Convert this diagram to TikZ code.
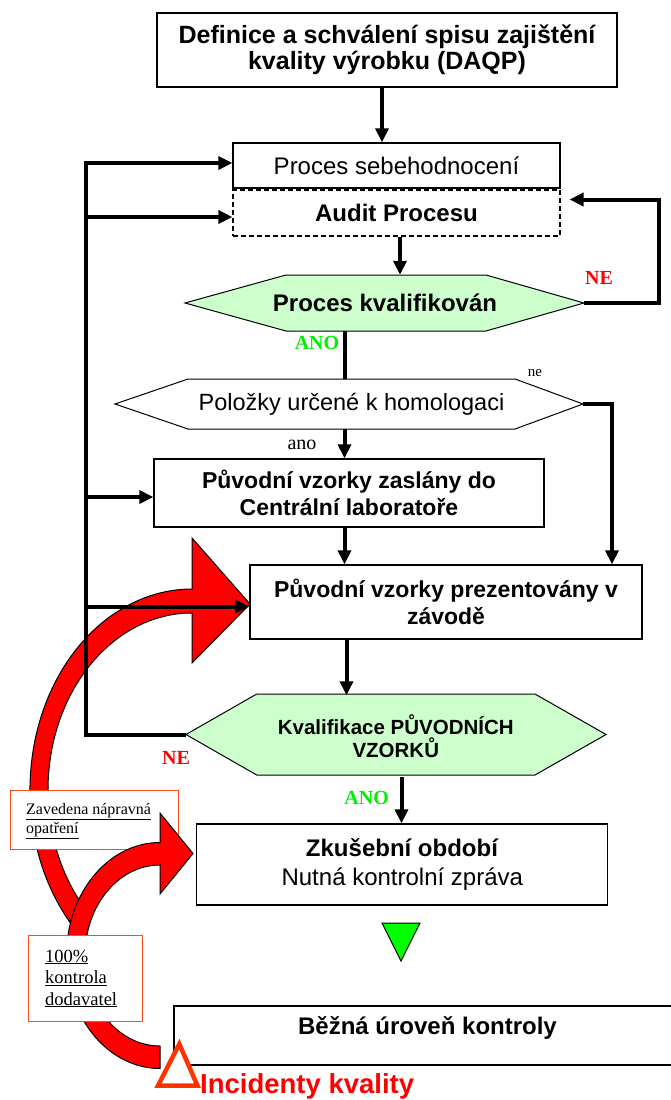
\documentclass[tikz,border=0pt]{standalone}
\usepackage{fontspec}
\setmainfont{Liberation Sans}
\newfontfamily\labelfont{Liberation Serif}
\usetikzlibrary{arrows.meta}
\definecolor{decisiongreen}{HTML}{CCFFCC}
\definecolor{yesgreen}{HTML}{00EE00}
\definecolor{nored}{HTML}{FF0000}
\definecolor{noteorange}{HTML}{FF4A1C}
\definecolor{alertorange}{HTML}{FF3300}
\definecolor{okgreen}{HTML}{00FF00}
\begin{document}
\begin{tikzpicture}[x=1pt,y=-1pt,
  stepbox/.style={draw=black, line width=1.3pt, fill=white, inner sep=0pt, align=center},
  bigbold/.style={font=\bfseries\fontsize{24}{26.5}\selectfont},
  textonly/.style={inner sep=0pt, align=center},
  decision/.style={draw=black, line width=1pt, fill=decisiongreen},
  flow/.style={line width=4pt, -{Triangle[length=14pt,width=13pt]}},
  flowline/.style={line width=4pt},
  yeslabel/.style={font=\labelfont\bfseries\fontsize{20}{22}\selectfont, text=yesgreen, inner sep=0pt},
  nolabel/.style={font=\labelfont\bfseries\fontsize{20}{22}\selectfont, text=nored, inner sep=0pt},
  notebox/.style={draw=noteorange, line width=1.3pt, fill=white, inner sep=0pt},
  notetext/.style={inner sep=0pt, anchor=base west},
  redarrow/.style={fill=red, draw=black, line width=1pt, line join=miter},
]
\useasboundingbox (0,0) rectangle (671,1100);

% curved arrow towards the plant presentation
\draw[redarrow] (192,589) -- (192,538) -- (250,604) -- (192,663) -- (192,613)
   arc[start angle=270, end angle=141, x radius=144, y radius=177]
   -- (69.7,921.9)
   arc[start angle=139, end angle=270, x radius=162, y radius=201] -- cycle;

% note: corrective actions
\node[notebox, minimum width=168pt, minimum height=59pt, anchor=north west] (fix) at (10,790) {};
\node[notetext, font=\labelfont\fontsize{16}{19}\selectfont] (fixA) at (26,814) {\underline{Zavedena nápravná}};
\node[notetext, font=\labelfont\fontsize{16}{19}\selectfont] (fixB) at (26,833.5) {\underline{opatření}};

% curved arrow towards the trial period
\draw[redarrow] (160,1068.5)
   arc[start angle=90, end angle=270, x radius=93.5, y radius=113]
   -- (160,813) -- (193,853.5) -- (160,894) -- (160,865)
   arc[start angle=270, end angle=90, x radius=75, y radius=90.5] -- cycle;

% note: full supplier inspection
\node[notebox, minimum width=114pt, minimum height=86pt, anchor=north west] (full) at (28,935) {};
\node[notetext, font=\labelfont\fontsize{18.5}{21}\selectfont] (fullA) at (45,962) {\underline{100\%}};
\node[notetext, font=\labelfont\fontsize{18.5}{21}\selectfont] (fullB) at (45,983.5) {\underline{kontrola}};
\node[notetext, font=\labelfont\fontsize{18.5}{21}\selectfont] (fullC) at (45,1005) {\underline{dodavatel}};

% process boxes
\node[stepbox, font=\bfseries\fontsize{25}{26.5}\selectfont, minimum width=460pt, minimum height=74pt] (daqp) at (387,50)
  {Definice a schválení spisu zajištění\\kvality výrobku (DAQP)};
\node[stepbox, font=\fontsize{24}{26}\selectfont, minimum width=327pt, minimum height=45pt] (sebe) at (396.5,165.5)
  {Proces sebehodnocení};
\node[stepbox, bigbold, dash pattern=on 5pt off 3pt, line width=1.1pt, minimum width=327pt, minimum height=46pt] (audit) at (396.5,213)
  {Audit Procesu};

% decision: process qualified
\path[decision] (185,303) -- (286,275) -- (486,275) -- (584,303) -- (486,331) -- (286,331) -- cycle;
\node[textonly, bigbold, minimum width=200pt, minimum height=56pt] (pk) at (385,303) {Proces kvalifikován};
\coordinate (pkE) at (584,303);

% decision: items for homologation
\draw[line width=1pt, fill=white] (115,404) -- (188,379) -- (515,379) -- (583,404) -- (515,429) -- (188,429) -- cycle;
\node[textonly, font=\fontsize{23.5}{26}\selectfont, minimum width=327pt, minimum height=50pt] (pol) at (351.5,404)
  {Položky určené k homologaci};
\coordinate (polE) at (583,404);

\node[stepbox, font=\bfseries\fontsize{23}{26.5}\selectfont, minimum width=390pt, minimum height=68pt] (zas) at (349,493)
  {Původní vzorky zaslány do\\Centrální laboratoře};
\node[stepbox, font=\bfseries\fontsize{23}{26.5}\selectfont, minimum width=392pt, minimum height=74pt] (pre) at (446,602)
  {Původní vzorky prezentovány v\\závodě};

% decision: qualification of original samples
\path[decision] (186,734.5) -- (256.7,694) -- (535,694) -- (606,734.5) -- (535,775) -- (256.7,775) -- cycle;
\node[textonly, font=\bfseries\fontsize{20.5}{23}\selectfont, minimum width=278pt, minimum height=81pt] (kq) at (395.8,736)
  {Kvalifikace PŮVODNÍCH\\VZORKŮ};
\coordinate (kqW) at (186,734.5);

\node[stepbox, font=\fontsize{24}{29}\selectfont, minimum width=411pt, minimum height=81pt] (zk) at (402.3,864.5)
  {\textbf{Zkušební období}\\Nutná kontrolní zpráva};

% marker between trial period and routine level
\filldraw[fill=okgreen, draw=black, line width=1pt] (382,923) -- (420,923) -- (401,961) -- cycle;

\node[stepbox, minimum width=507pt, minimum height=59pt] (bez) at (427.5,1035.5) {};
\node[textonly, bigbold] (beztext) at (427.5,1028) {Běžná úroveň kontroly};

% quality incidents warning
\filldraw[fill=white, draw=alertorange, line width=4.5pt, line join=miter] (179.3,1044) -- (197.5,1085.7) -- (158,1085.7) -- cycle;
\node[anchor=base west, inner sep=0pt, text=nored, font=\bfseries\fontsize{27.5}{30}\selectfont] (incid) at (200,1093) {Incidenty kvality};

% column positions of the vertical connectors
\coordinate (cA) at (382,0);
\coordinate (cB) at (400,0);
\coordinate (cC) at (344.5,0);
\coordinate (cD) at (346.5,0);
\coordinate (cE) at (401.5,0);

\draw[flow] (daqp.south -| cA) -- (sebe.north -| cA);
\draw[flow] (audit.south -| cB) -- (pk.north -| cB);
\draw[flowline] (pk.south -| cC) -- (pol.north -| cC);
\draw[flow] (pol.south -| cC) -- (zas.north -| cC);
\draw[flow] (zas.south -| cC) -- (pre.north -| cC);
\draw[flow] (pre.south -| cD) -- (kq.north -| cD);
\draw[flow] (kq.south -| cE) -- (zk.north -| cE);

% loop back to the audit when the process is not qualified
\coordinate (rloopB) at (659,303);
\coordinate (rloopT) at (659,199.5);
\draw[flow, shorten >=9pt] (pkE) -- (rloopB) -- (rloopT) -- (rloopT -| audit.east);

% items not for homologation go straight to the plant
\coordinate (rcol) at (612,404);
\draw[flow] (polE) -- (rcol) -- (rcol |- pre.north);

% loop back when the original samples are not qualified
\coordinate (lbot) at (85.6,734.5);
\coordinate (ltop) at (85.6,163);
\draw[flow] (kqW) -- (lbot) -- (ltop) -- (ltop -| sebe.west);
\coordinate (lAudit) at (85.6,217);
\draw[flow] (lAudit) -- (lAudit -| audit.west);
\coordinate (lZas) at (85.6,497);
\draw[flow] (lZas) -- (lZas -| zas.west);
\coordinate (lPre) at (85.6,606.5);
\draw[flow] (lPre) -- (lPre -| pre.west);

% branch labels
\node[nolabel] (neA) at (599,278) {NE};
\node[yeslabel] (anoA) at (317,343) {ANO};
\node[inner sep=0pt, font=\labelfont\fontsize{15}{17}\selectfont] (neB) at (535,373) {ne};
\node[inner sep=0pt, font=\labelfont\fontsize{20}{22}\selectfont] (anoB) at (302,445) {ano};
\node[nolabel] (neC) at (176,758) {NE};
\node[yeslabel] (anoC) at (366.7,798) {ANO};
\end{tikzpicture}
\end{document}
